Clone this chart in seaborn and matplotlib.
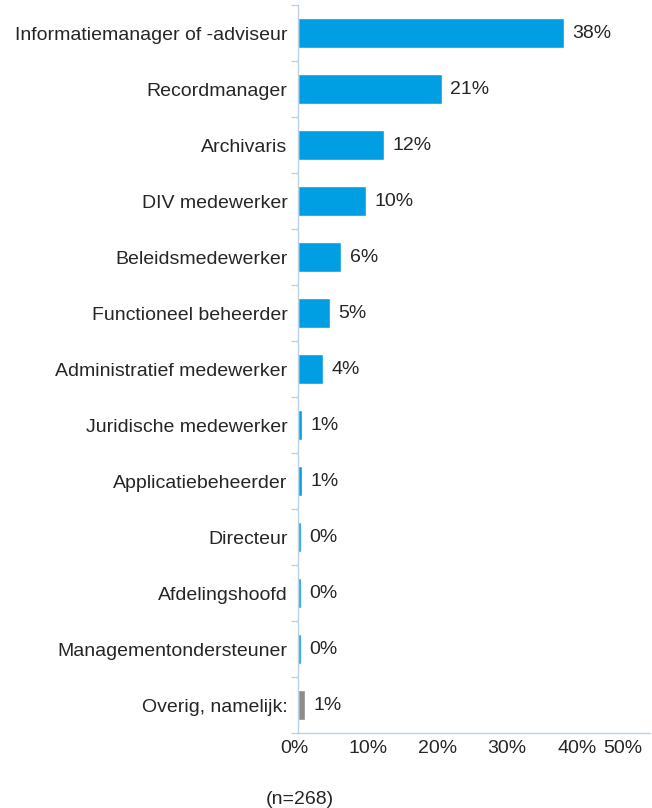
import matplotlib
matplotlib.use("Agg")
import matplotlib.pyplot as plt
import matplotlib.transforms as mtransforms
import seaborn as sns
import pandas as pd
from matplotlib.ticker import FixedLocator

functies = [
    "Informatiemanager of -adviseur",
    "Recordmanager",
    "Archivaris",
    "DIV medewerker",
    "Beleidsmedewerker",
    "Functioneel beheerder",
    "Administratief medewerker",
    "Juridische medewerker",
    "Applicatiebeheerder",
    "Directeur",
    "Afdelingshoofd",
    "Managementondersteuner",
    "Overig, namelijk:",
]
aandeel = [38.1, 20.6, 12.3, 9.8, 6.2, 4.6, 3.6, 0.6, 0.6, 0.4, 0.4, 0.4, 1.0]
groep = ["functie"] * 12 + ["overig"]
x_ticks = [0, 10, 20, 30, 40, 50]
n_label = "(n=268)"

blauw = "#009FE3"
grijs = "#8C8C8C"
as_kleur = "#BFD1E5"
tekst = "#262626"

sns.set_theme(style="white")
plt.rcParams["font.family"] = ["Liberation Sans", "DejaVu Sans"]

df = pd.DataFrame({"functie": functies, "aandeel": aandeel, "groep": groep})

fig = plt.figure(figsize=(6.52, 8.08), dpi=100)
ax = fig.add_axes([298 / 652, 1 - 733 / 808, (650 - 298) / 652, (733 - 5) / 808])

sns.barplot(data=df, y="functie", x="aandeel", hue="groep",
            palette={"functie": blauw, "overig": grijs},
            orient="h", width=0.52, dodge=False, legend=False,
            saturation=1, ax=ax)

ax.set_xlim(0, 50.5)
ax.set_ylim(len(functies) - 0.5, -0.5)
ax.set_xlabel("")
ax.set_ylabel("")

# value labels
for i, v in enumerate(aandeel):
    ax.annotate(f"{v:.0f}%", xy=(v, i), xytext=(6, 0), textcoords="offset points",
                ha="left", va="center", fontsize=14, color=tekst)

# x-axis
ax.set_xticks(x_ticks)
ax.set_xticklabels([f"{t}%" for t in x_ticks], fontsize=14, color=tekst)
ax.tick_params(axis="x", length=0, pad=5)
last = ax.get_xticklabels()[-1]
last.set_horizontalalignment("right")
last.set_transform(last.get_transform() + mtransforms.ScaledTranslation(-4 / 100, 0, fig.dpi_scale_trans))
first = ax.get_xticklabels()[0]
first.set_transform(first.get_transform() + mtransforms.ScaledTranslation(-4 / 100, 0, fig.dpi_scale_trans))

# y-axis: category labels with separator ticks between categories
ax.tick_params(axis="y", which="major", length=0, pad=7.5, labelsize=14, labelcolor=tekst)
ax.yaxis.set_minor_locator(FixedLocator([k - 0.5 for k in range(len(functies) + 1)]))
ax.tick_params(axis="y", which="minor", length=5, width=1, color=as_kleur, left=True)

for side in ["top", "right"]:
    ax.spines[side].set_visible(False)
for side in ["left", "bottom"]:
    ax.spines[side].set_color(as_kleur)
    ax.spines[side].set_linewidth(1)

fig.text(300 / 652, 1 - 800 / 808, n_label, ha="center", va="center", fontsize=14, color=tekst)

fig.savefig("out.png", dpi=100)
